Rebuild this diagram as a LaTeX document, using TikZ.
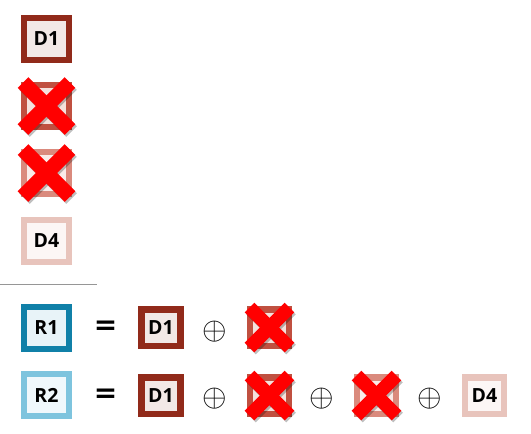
\documentclass[tikz,border=0pt]{standalone}
\usepackage{fontspec}
\setmainfont{Open Sans}
\newfontfamily\symfont{DejaVu Sans}
\definecolor{cD1}{RGB}{145,42,26}
\definecolor{iD1}{RGB}{242,232,230}
\definecolor{cD2}{RGB}{192,80,64}
\definecolor{iD2}{RGB}{245,225,220}
\definecolor{cD3}{RGB}{218,138,125}
\definecolor{iD3}{RGB}{250,235,232}
\definecolor{cD4}{RGB}{232,196,188}
\definecolor{iD4}{RGB}{252,246,245}
\definecolor{cR1}{RGB}{16,128,168}
\definecolor{iR1}{RGB}{232,243,248}
\definecolor{cR2}{RGB}{126,196,222}
\definecolor{iR2}{RGB}{240,248,252}
\definecolor{xred}{RGB}{255,0,0}
\definecolor{rule}{RGB}{150,150,150}
\newcommand\myoplus{\scalebox{3.15}{$\oplus$}}
\begin{document}
\begin{tikzpicture}[x=1pt,y=-1pt,
  box/.style={draw, line width=6pt, minimum width=45pt, minimum height=42pt,
    inner sep=0pt, font={\bfseries\fontsize{19.5}{19.5}\selectfont}, text=black},
  sbox/.style={box, line width=6.5pt, minimum width=39pt, minimum height=36.5pt},
  op/.style={inner sep=0pt},
  eqs/.style={inner sep=0pt, font={\symfont\bfseries\fontsize{28}{28}\selectfont}},
  pics/xmark/.style n args={2}{code={
    \draw[line width=#2pt, black, opacity=0.25] (-#1+1.5,-#1+2) -- (#1+1.5,#1+2);
    \draw[line width=#2pt, black, opacity=0.25] (-#1+1.5,#1+2) -- (#1+1.5,-#1+2);
    \draw[line width=#2pt, xred] (-#1,-#1) -- (#1,#1);
    \draw[line width=#2pt, xred] (-#1,#1) -- (#1,-#1);
  }}]
\useasboundingbox (0,0) rectangle (531,434);
\fill[white] (0,0) rectangle (531,434);
% left column
\node[box, draw=cD1, fill=iD1] (d1) at (46.5,39) {D1};
\node[box, draw=cD2, fill=iD2] (d2) at (46.5,106) {};
\node[box, draw=cD3, fill=iD3] (d3) at (46.5,173) {};
\node[box, draw=cD4, fill=iD4] (d4) at (46.5,240.5) {D4};
\pic at (d2.center) {xmark={23.5}{15}};
\pic at (d3.center) {xmark={23.5}{15}};
% separator
\coordinate (la) at (0,284);
\coordinate (lb) at (97,284);
\draw[rule, line width=1pt] (la) -- (lb);
% row 1
\node[box, draw=cR1, fill=iR1] (r1) at (46.5,328) {R1};
\node[eqs] (e1) at (105.5,328) {=};
\node[sbox, draw=cD1, fill=iD1] (r1d1) at (161,327.5) {D1};
\node[op] (p1) at (215,331.5) {\myoplus};
\node[sbox, draw=cD2, fill=iD2] (r1d2) at (269.5,327.5) {};
\pic at (r1d2.center) {xmark={20}{13.5}};
% row 2
\node[box, draw=cR2, fill=iR2] (r2) at (46.5,395) {R2};
\node[eqs] (e2) at (105.5,395.5) {=};
\node[sbox, draw=cD1, fill=iD1] (r2d1) at (161,395.5) {D1};
\node[op] (p2) at (215,398.5) {\myoplus};
\node[sbox, draw=cD2, fill=iD2] (r2d2) at (269.5,395.5) {};
\pic at (r2d2.center) {xmark={20}{13.5}};
\node[op] (p3) at (322,398.5) {\myoplus};
\node[sbox, draw=cD3, fill=iD3] (r2d3) at (376.5,395.5) {};
\pic at (r2d3.center) {xmark={20}{13.5}};
\node[op] (p4) at (430,398.5) {\myoplus};
\node[sbox, draw=cD4, fill=iD4] (r2d4) at (484.5,395.5) {D4};
\end{tikzpicture}
\end{document}
